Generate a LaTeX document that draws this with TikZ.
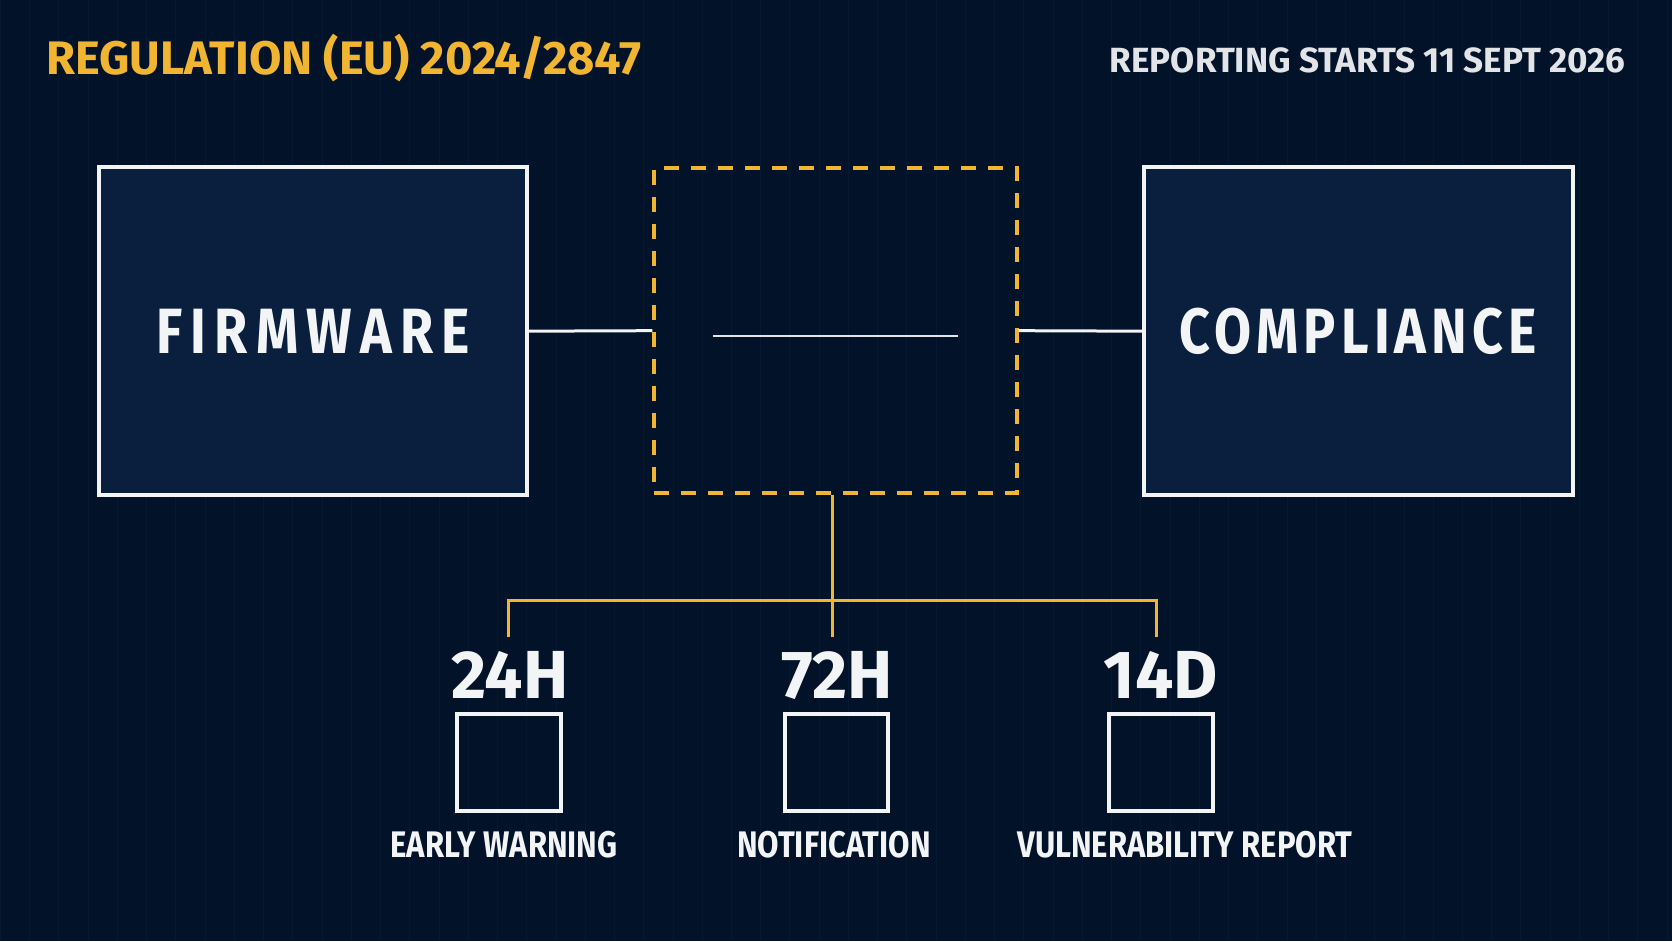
\documentclass[tikz,border=0pt]{standalone}
\usepackage{fontspec}
\setmainfont{Fira Sans}
\newfontfamily\headfont{Fira Sans}
\newfontfamily\narrowfont[FakeStretch=0.84]{Fira Sans}
\newfontfamily\wideheadfont[FakeStretch=0.84,LetterSpace=8]{Fira Sans}

\definecolor{bgnavy}{HTML}{021228}
\definecolor{gridnavy}{HTML}{071932}
\definecolor{boxnavy}{HTML}{0A1E3E}
\definecolor{craamber}{HTML}{F2B531}
\definecolor{offwhite}{HTML}{F3F4F6}
\definecolor{softgray}{HTML}{E2E4E8}

\tikzset{
  mainbox/.style={draw=offwhite,line width=4pt,fill=boxnavy,text=offwhite,
    font=\wideheadfont\bfseries\fontsize{64}{64}\selectfont},
  gapbox/.style={draw=craamber,line width=3.5pt,dash pattern=on 15pt off 12pt},
  stepbox/.style={draw=offwhite,line width=4pt,minimum width=104,minimum height=97},
  linkline/.style={draw=offwhite,line width=3pt},
  busline/.style={draw=craamber,line width=3pt},
  deadline/.style={text=offwhite,font=\headfont\bfseries\fontsize{68}{68}\selectfont,anchor=base},
  caption/.style={text=offwhite,font=\narrowfont\bfseries\fontsize{37}{37}\selectfont,anchor=base}
}

\begin{document}
\begin{tikzpicture}[x=1pt,y=-1pt]
    \fill[bgnavy] (0,0) rectangle (1672,941);
    \draw[gridnavy,line width=0.6pt,step=29.25] (0,0) grid (1672,941);
    \useasboundingbox (0,0) rectangle (1672,941);

    % header
    \node[anchor=base west,text=craamber,font=\headfont\bfseries\fontsize{47}{47}\selectfont,inner sep=0]
        (title) at (46,74) {REGULATION (EU) 2024/2847};
    \node[anchor=base east,text=softgray,font=\headfont\bfseries\fontsize{35}{35}\selectfont,inner sep=0]
        (start) at (1626,72) {REPORTING STARTS 11 SEPT 2026};

    % main row
    \node[mainbox,minimum width=428,minimum height=328] (firm) at (313,331) {\addfontfeature{LetterSpace=13}FIRMWARE};
    \node[mainbox,minimum width=429,minimum height=328] (comp) at (1358.5,331) {COMPLIANCE};
    \node[gapbox,minimum width=363,minimum height=325] (gap) at (835.5,330.5) {};
    \coordinate (gapl) at (713,336);
    \coordinate (gapr) at (958,336);
    \draw[softgray,line width=2.5pt] (gapl) -- (gapr);

    \draw[linkline] (firm.east) -- (gap.west);
    \draw[linkline] (gap.east) -- (comp.west);

    % deadlines
    \node[stepbox] (box24) at (508.5,762.5) {};
    \node[stepbox] (box72) at (836.5,762.5) {};
    \node[stepbox] (box14) at (1161.5,762.5) {};

    \node[deadline] (t24) at (510,698) {24H};
    \node[deadline] (t72) at (837,698) {72H};
    \node[deadline] (t14) at (1161,698) {14D};

    \node[caption] (c24) at (504,857) {EARLY WARNING};
    \node[caption] (c72) at (834,857) {NOTIFICATION};
    \node[caption] (c14) at (1185,857) {VULNERABILITY REPORT};

    \coordinate (j24) at (508.5,637);
    \coordinate (j72) at (832,637);
    \coordinate (j14) at (1157,637);
    \draw[busline] (j72 |- gap.south) -- (j72);
    \draw[busline] (j24) -- ++(0,-37) -| (j14);
\end{tikzpicture}
\end{document}
